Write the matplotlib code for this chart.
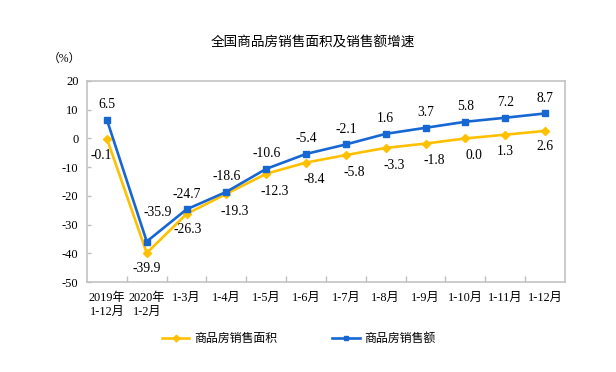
import matplotlib
matplotlib.use('Agg')
import matplotlib.pyplot as plt
import numpy as np

plt.rcParams['font.family'] = ['Liberation Serif', 'Noto Sans CJK SC', 'DejaVu Sans']
plt.rcParams['axes.unicode_minus'] = False

#%% 数据
categories = ['2019年\n1-12月', '2020年\n1-2月', '1-3月', '1-4月', '1-5月', '1-6月',
              '1-7月', '1-8月', '1-9月', '1-10月', '1-11月', '1-12月']
area_growth = [-0.1, -39.9, -26.3, -19.3, -12.3, -8.4, -5.8, -3.3, -1.8, 0.0, 1.3, 2.6]
sales_growth = [6.5, -35.9, -24.7, -18.6, -10.6, -5.4, -2.1, 1.6, 3.7, 5.8, 7.2, 8.7]
area_name = '商品房销售面积'
sales_name = '商品房销售额'

yellow = '#FFC000'
blue = '#1667D2'

#%% 图
fig = plt.figure(figsize=(6.16, 3.72), dpi=100)
ax = fig.add_axes([0.1412, 0.2419, 0.7760, 0.5404])
x = np.arange(len(categories))

ax.plot(x, area_growth, color=yellow, lw=1.9, marker='D', ms=4.2, label=area_name, zorder=3)
ax.plot(x, sales_growth, color=blue, lw=1.9, marker='s', ms=4.0, label=sales_name, zorder=3)

# 数据标签偏移 (points)
sales_off = {1: (8, 21)}
area_off = {0: (-4, -12), 1: (0, -11), 2: (1, -11), 10: (0, -12), 11: (0, -11)}
for i, v in enumerate(sales_growth):
    dx, dy = sales_off.get(i, (0, 11))
    ax.annotate(f'{v:.1f}', (i, v), xytext=(dx, dy), textcoords='offset points',
                ha='center', va='center', fontsize=9.8)
for i, v in enumerate(area_growth):
    dx, dy = area_off.get(i, (6, -12.5))
    ax.annotate(f'{v:.1f}', (i, v), xytext=(dx, dy), textcoords='offset points',
                ha='center', va='center', fontsize=9.8)

ax.set_xlim(-0.5, len(categories) - 0.5)
ax.set_ylim(-50, 20)
ax.set_yticks(range(-50, 21, 10))
ax.set_xticks(x)
ax.set_xticklabels(categories, fontsize=8.8, linespacing=1.3)
ax.set_xticks(np.arange(0.5, len(categories) - 0.5, 1), minor=True)
ax.tick_params(axis='x', which='major', length=0, pad=7)
ax.tick_params(axis='x', which='minor', direction='in', length=4, color='#BFBFBF', width=1)
ax.tick_params(axis='y', direction='in', length=3, color='#BFBFBF', width=1, labelsize=9, pad=6)
for s in ax.spines.values():
    s.set_color('#BFBFBF')
    s.set_linewidth(1.1)

fig.text(0.508, 0.885, '全国商品房销售面积及销售额增速', ha='center', va='center', fontsize=9.8,
         family=['Noto Sans CJK SC'])
fig.text(0.105, 0.843, '（%）', ha='center', va='center', fontsize=8.5)

fig.legend(loc='center', bbox_to_anchor=(0.485, 0.088), ncol=2, frameon=False,
           fontsize=8.6, handlelength=2.3, handletextpad=0.4, columnspacing=4.6,
           markerscale=0.8)

fig.savefig('out.png', dpi=100)
